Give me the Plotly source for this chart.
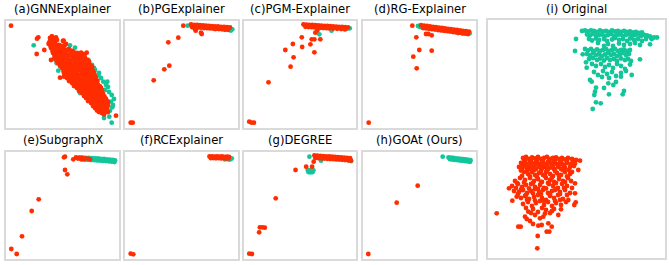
import plotly.graph_objects as go

TEAL = "#12c69a"
RED = "#ff2d00"

titles = ["(a)GNNExplainer", "(b)PGExplainer", "(c)PGM-Explainer", "(d)RG-Explainer",
          "(e)SubgraphX", "(f)RCExplainer", "(g)DEGREE", "(h)GOAt (Ours)", "(i) Original"]

# ---------------- data (embedding coordinates, per panel) ----------------
a_teal_x = [27.7, 64, 69, 82.3, 80.7, 92.3, 97.3, 101.3, 99, 105.7, 105, 106.3, 104, 103.3, 105.7, 100.7,
            50.7, 52.3, 60.7, 65.7, 70.7, 76.3, 79, 86.3, 90.7, 94, 99, 86, 89, 95, 102, 108, 96, 84, 74, 56, 48,
            88, 93, 100, 103, 107, 98]
a_teal_y = [24.3, 24.3, 26.7, 39, 44, 54, 60.7, 60.7, 69, 74, 80.7, 86.3, 89.7, 95.7, 101.7, 90.7,
            42.3, 49.7, 52.3, 60.7, 65.7, 69.7, 75, 79, 82.3, 87.3, 88.3, 44, 49, 57, 66, 78, 92, 80, 72, 45, 38,
            47, 52, 64, 71, 84, 97]
a_red_x = [44, 46, 48, 50,
           43, 46, 49, 53, 57, 60,
           45, 48, 51, 54, 57, 60, 63, 66,
           47, 50, 53, 56, 59, 62, 65, 68, 71, 74, 77,
           49, 52, 55, 58, 61, 64, 67, 70, 73, 76, 79, 81,
           52, 55, 58, 61, 64, 67, 70, 73, 76, 79, 82, 84,
           56, 59, 62, 65, 68, 71, 74, 77, 80, 83, 86,
           58, 61, 64, 67, 70, 73, 76, 79, 82, 85, 88,
           61, 64, 67, 70, 73, 76, 79, 82, 85, 88, 90,
           66, 69, 72, 75, 78, 81, 84, 87, 90, 92,
           71, 74, 77, 80, 83, 86, 89, 92, 95,
           76, 79, 82, 85, 88, 91, 94, 97,
           80, 83, 86, 89, 92, 95, 98, 100,
           85, 88, 91, 94, 97, 100, 102,
           89, 92, 95, 98, 101,
           93, 96, 99, 102,
           45.5, 48.5, 51,
           44.5, 47.5, 50.5, 55, 58.5,
           46.5, 49.5, 52.5, 55.5, 58.5, 61.5, 64.5, 67.5,
           48.5, 51.5, 54.5, 57.5, 60.5, 63.5, 66.5, 69.5, 72.5, 75.5, 78.5,
           50.5, 53.5, 56.5, 59.5, 62.5, 65.5, 68.5, 71.5, 74.5, 77.5, 80.5, 83,
           54, 57, 60, 63, 66, 69, 72, 75, 78, 81, 84, 86,
           57.5, 60.5, 63.5, 66.5, 69.5, 72.5, 75.5, 78.5, 81.5, 84.5, 87,
           59.5, 62.5, 65.5, 68.5, 71.5, 74.5, 77.5, 80.5, 83.5, 86.5, 89,
           63, 66, 69, 72, 75, 78, 81, 84, 87, 90, 91.5,
           68, 71, 74, 77, 80, 83, 86, 89, 92, 94,
           73, 76, 79, 82, 85, 88, 91, 94, 96,
           78, 81, 84, 87, 90, 93, 96, 98.5,
           82, 85, 88, 91, 94, 97, 100, 101.5,
           87, 90, 93, 96, 99, 102,
           91, 94, 97, 100,
           5, 32.3, 31, 30.7, 38.3, 45.7, 47.7, 44, 42.7, 49, 57.7, 75, 80.7, 45, 54, 58, 98, 110, 92.3]
a_red_y = [17, 15.5, 18, 16.5,
           22, 21, 23, 24, 20, 23,
           27, 28, 26, 28, 27, 29, 28, 30,
           32, 33, 31, 33, 32, 34, 31, 33, 32, 34, 33,
           37, 38, 36, 38, 37, 39, 36, 38, 37, 39, 37, 39,
           42, 43, 41, 43, 42, 44, 41, 43, 42, 44, 42, 44,
           47, 48, 46, 48, 47, 49, 46, 48, 47, 49, 47,
           52, 53, 51, 53, 52, 54, 51, 53, 52, 54, 52,
           57, 58, 56, 58, 57, 59, 56, 58, 57, 59, 57,
           62, 63, 61, 63, 62, 64, 61, 63, 62, 64,
           67, 68, 66, 68, 67, 69, 66, 68, 67,
           72, 73, 71, 73, 72, 74, 71, 73,
           77, 78, 76, 78, 77, 79, 76, 78,
           82, 83, 81, 83, 82, 84, 81,
           87, 88, 86, 88, 87,
           91, 92, 90, 91,
           19.5, 20, 19,
           25, 24.5, 25.5, 25, 24.5,
           30, 29.5, 30.5, 29.5, 30.5, 29.5, 30, 31,
           35, 34.5, 35.5, 34.5, 35.5, 34.5, 35, 35.5, 34.5, 35.5, 35,
           40, 39.5, 40.5, 39.5, 40.5, 39.5, 40, 40.5, 39.5, 40.5, 40, 40.5,
           45, 44.5, 45.5, 44.5, 45.5, 44.5, 45, 45.5, 44.5, 45.5, 45, 45.5,
           50, 49.5, 50.5, 49.5, 50.5, 49.5, 50, 50.5, 49.5, 50.5, 50,
           55, 54.5, 55.5, 54.5, 55.5, 54.5, 55, 55.5, 54.5, 55.5, 55,
           60, 59.5, 60.5, 59.5, 60.5, 59.5, 60, 60.5, 59.5, 60.5, 60,
           65, 64.5, 65.5, 64.5, 65.5, 64.5, 65, 65.5, 64.5, 65.5,
           70, 69.5, 70.5, 69.5, 70.5, 69.5, 70, 70.5, 69.5,
           75, 74.5, 75.5, 74.5, 75.5, 74.5, 75, 75.5,
           80, 79.5, 80.5, 79.5, 80.5, 79.5, 80, 80.5,
           85, 84.5, 85.5, 84.5, 85.5, 84.5,
           89.5, 90, 89.5, 89,
           4.7, 16.3, 17.7, 33, 29, 15.7, 17.3, 19.7, 23, 22.3, 19.7, 31.7, 31.7, 39, 56.7, 55.7, 93.3, 94.7, 89]

b_teal_x = [62.7, 107.3, 106, 104.5, 100, 90]
b_teal_y = [4.7, 8.3, 9.5, 9, 8.8, 8]
b_red_x = [58.3, 66, 69, 72, 75, 78, 81, 84, 87, 90, 93, 96, 99, 102, 105,
           67, 70, 73, 76, 79, 82, 85, 88, 91, 94, 97, 100, 103,
           70, 70.7, 76, 76.7, 53.3, 43.3, 39.3, 44.3, 28.7, 5.7, 7.7]
b_red_y = [4.7, 3.5, 3.8, 4, 4.2, 4.4, 4.6, 4.9, 5.1, 5.3, 5.5, 5.8, 6, 6.2, 6.5,
           6, 6.2, 6.5, 6.7, 7, 7.2, 7.4, 7.6, 7.9, 8.1, 8.3, 8.6, 8.8,
           8.3, 9.7, 11.7, 13, 16.7, 21.3, 48.3, 44.7, 59.3, 101.7, 101.7]

c_teal_x = [106.7, 104, 88.3, 76, 101]
c_teal_y = [7.3, 7.8, 9.7, 13.3, 8.2]
c_red_x = [60, 63, 66, 69, 72, 75, 78, 81, 84, 87, 90, 93, 96, 99, 102, 105,
           62, 65, 68, 71, 74, 77, 80, 83, 86, 90, 94, 98, 102,
           74, 72, 58.3, 68.3, 71, 77, 49.3, 58.7, 67, 41.7, 71, 50, 47, 24.7, 5.3, 10, 7.7]
c_red_y = [3.5, 3.7, 3.8, 4, 4.2, 4.4, 4.6, 4.8, 5, 5.2, 5.4, 5.6, 5.8, 6, 6.2, 6.4,
           5.8, 6, 6.2, 6.4, 6.6, 6.8, 7, 7.2, 7.4, 7.6, 7.8, 8, 8.3,
           9.5, 11.7, 16.3, 18.3, 18.3, 18.3, 23, 26, 23.3, 29, 31.3, 36.3, 45.7, 61.3, 100.7, 101.7, 101.7]

d_teal_x = [55, 57, 106.7, 104, 100, 95]
d_teal_y = [5, 6, 12.3, 12.8, 12.6, 12]
d_red_x = [49.3, 58, 61, 64, 67, 70, 73, 76, 79, 82, 85, 88, 91, 94, 97, 100, 103, 106,
           60, 63, 66, 69, 72, 75, 78, 81, 84, 87, 90, 93, 96, 99, 102, 105,
           53.3, 63, 65.3, 68.7, 56.3, 68.7, 50.3, 53.7, 5.7]
d_red_y = [4.7, 4.2, 4.6, 5, 5.4, 5.8, 6.2, 6.6, 7, 7.4, 7.8, 8.2, 8.6, 9, 9.4, 9.8, 10.2, 10.6,
           7, 7.4, 7.8, 8.2, 8.6, 9, 9.4, 9.8, 10.2, 10.6, 11, 11.4, 11.8, 12.2, 12.6, 13,
           16.3, 13, 13, 14.3, 29, 29.7, 35.7, 47.3, 101.7]

e_teal_x = [74, 77, 80, 83, 86, 89, 92, 95, 98, 101, 104, 107, 109,
            76, 79, 82, 85, 88, 91, 94, 97, 100, 103, 106, 108.5]
e_teal_y = [5.5, 5.6, 5.8, 6, 6.1, 6.3, 6.5, 6.8, 7, 7.3, 7.6, 7.9, 8.3,
            7.5, 7.7, 7.8, 8, 8.2, 8.4, 8.7, 8.9, 9.1, 9.4, 9.7, 10]
e_red_x = [59, 58, 67.3, 70, 73, 76, 79, 82, 84, 72, 75, 78, 59, 61.3, 32.7, 25.7, 16, 5.3, 10.7]
e_red_y = [4.7, 5.3, 7.3, 5.5, 5.8, 6, 6.3, 6.6, 7.3, 6.5, 7, 7.2, 18, 22.3, 47.3, 59, 84.3, 97, 102]

f_teal_x = [106.7, 105.5, 104, 100]
f_teal_y = [6.3, 7.3, 7.5, 7.4]
f_red_x = [84.5, 87, 89.5, 92, 94.5, 97, 99.5, 102, 104, 86, 88.5, 91, 93.5, 96, 98.5, 101, 103.5, 5.7, 8.3]
f_red_y = [4.5, 4.3, 4.6, 4.4, 4.7, 4.5, 4.8, 4.6, 5, 6.2, 6, 6.3, 6.1, 6.4, 6.2, 6.5, 6.4, 101.7, 102.3]

g_teal_x = [66, 77.7, 64.3, 66, 68, 70, 65, 67, 69, 106, 108]
g_teal_y = [4.7, 8.7, 18, 18.5, 18.7, 18.3, 20, 20.3, 20.2, 8.5, 9]
g_red_x = [71, 74, 77, 80, 83, 86, 89, 92, 95, 98, 101, 104, 107,
           72, 75, 78, 81, 84, 87, 90, 93, 96, 99, 102, 105, 108,
           70.3, 62.7, 68.7, 52, 32, 16, 18.7, 21, 15.3, 5.3, 8]
g_red_y = [3.5, 3.7, 3.9, 4.1, 4.3, 4.5, 4.7, 4.9, 5.1, 5.3, 5.6, 5.9, 6.2,
           6, 6.2, 6.4, 6.6, 6.8, 7, 7.2, 7.4, 7.6, 7.8, 8, 8.3, 8.7,
           9.7, 14.7, 14.7, 18, 46.3, 75.3, 75.3, 75.7, 80.3, 101.7, 102]

h_teal_x = [79.7, 85.5, 88, 90.5, 93, 95.5, 98, 100.5, 103, 105.5, 107.5,
            87, 89.5, 92, 94.5, 97, 99.5, 102, 104.5, 107]
h_teal_y = [4.7, 5.5, 5.7, 6, 6.3, 6.6, 6.9, 7.2, 7.5, 7.8, 8.2,
            7.3, 7.6, 7.9, 8.2, 8.5, 8.8, 9.1, 9.4, 9.8]
h_red_x = [54.7, 33.7, 5.3]
h_red_y = [33.7, 50.7, 102]

i_teal_x = [94, 97, 100, 103, 106, 109, 112, 115, 118, 121, 124, 127, 130, 133, 136, 139, 142, 145, 148, 151, 154,
            99, 102, 105, 108, 111, 114, 117, 120, 123, 126, 129, 132, 135, 138, 141, 144, 147, 150, 153, 156, 159, 162,
            101, 104, 108, 111, 116, 119, 124, 127, 131, 135, 139, 142, 146, 150, 154, 158, 163, 166, 169, 163.7,
            110, 120, 125, 131, 136, 142, 147, 152, 162, 116,
            88, 87, 94.7,
            97, 100, 103, 106, 109, 112, 115, 118, 121, 124, 127, 130, 133, 136, 139, 142,
            99, 102, 105, 108, 111, 114, 117, 120, 123, 126, 129, 132, 135, 138, 141,
            101, 105, 109, 112, 116, 119, 122, 126, 129, 133, 137, 140, 143,
            98, 104, 108, 113, 117, 121, 125, 129, 133, 137, 142, 152, 98.7,
            106, 110, 115, 119, 124, 128, 133, 138, 143.7, 133, 114, 121,
            102, 103.7, 108, 107, 106.3, 108, 112.7, 104.7, 121, 134.7, 136, 125.3, 120.3, 116, 128]
i_teal_y = [11, 10.5, 11.5, 10.5, 11, 12, 10.5, 11.5, 11, 12, 10.5, 11.5, 11, 12, 11, 12, 11.5, 12.5, 12, 13, 12.5,
            14.5, 15.5, 14, 16, 15, 14.5, 16, 15, 14, 16, 15, 14.5, 16, 15, 14, 16, 15, 14.5, 16, 15, 15.5, 16.5,
            19, 20.5, 18.5, 20, 19, 21, 19.5, 18, 20, 19, 21, 18.5, 20, 19, 21, 19, 18, 17.5, 17.5, 19,
            23, 24, 26, 23.5, 25, 24, 23, 25, 24.3, 26,
            19, 31, 34.3,
            29, 30.5, 29, 31, 29.5, 31, 30, 29, 31, 30, 29, 31, 30, 29.5, 31, 30,
            34, 35.5, 33, 35, 34, 36, 34.5, 33, 35, 34, 36, 34.5, 33, 35, 34,
            39, 38, 40, 38.5, 40.5, 38, 40, 39, 41, 38.5, 40, 39, 41,
            42.3, 44, 46, 44, 47, 45, 48, 44, 46, 49, 44.5, 39.3, 47.7,
            52, 55, 51, 54, 52, 56, 53, 51, 55, 56.7, 57, 58,
            60, 61.7, 67.7, 71.7, 75, 82.3, 83.3, 89, 74.3, 74.3, 71, 65, 63.3, 68, 62]
i_red_x = [35, 38, 41, 44, 47, 50, 53, 56, 59, 62, 65, 68, 71, 74, 77, 80, 84, 88, 92,
           33, 36, 39, 42, 45, 48, 51, 54, 57, 60, 63, 66, 69, 72, 75, 79, 83, 87,
           31, 34, 38, 41, 44, 48, 51, 54, 57, 60, 63, 66, 70, 73, 77, 81, 90.3,
           36, 40, 44, 47, 51, 55, 58, 62, 65, 69, 73, 77, 82,
           27, 32, 37, 42, 46, 50, 54, 58, 62, 66, 71, 75, 80,
           21, 24, 30, 34, 38, 43, 47, 52, 56, 61, 65, 70, 74, 79, 87,
           26, 31, 35, 39, 43, 47, 51, 55, 60, 64, 68, 72, 77, 82, 87,
           28.7, 33, 37, 41, 46, 50, 54, 58, 62, 66, 70, 75, 80.3, 24.3,
           35, 40, 44, 48, 52, 56, 60, 64, 68, 73, 78, 87.7, 86.3,
           40.3, 37, 38.7, 47, 52, 55.3, 45, 50, 58, 62, 66, 70.3, 73, 8.7,
           30.3, 32.7, 50.3, 53.7, 60.3, 63.7, 58.7, 61.3, 42, 45,
           49.7, 49.3,
           37, 43, 49, 55, 61, 67, 73, 79, 85,
           35, 41, 47, 53, 59, 65, 71, 76, 82, 86,
           33, 39, 46, 53, 59, 67, 75, 84,
           34, 42, 49, 57, 64, 71, 79,
           29, 36, 45, 53, 60, 68, 77, 83,
           28, 33, 41, 50, 58, 67, 76, 84,
           30, 38, 45, 53, 62, 72, 79,
           39, 47, 56, 67, 72,
           38, 54, 64, 43, 57]
i_red_y = [138, 137, 139, 137.5, 138.5, 137, 139, 138, 137, 139, 138, 137.5, 139, 138, 139.5, 138, 139, 140, 140.7,
           143, 142, 144, 142, 143.5, 142, 144, 142.5, 144, 142, 143.5, 142, 144, 143, 144.5, 143, 144, 143.5,
           147, 148.5, 147, 149, 147.5, 149, 147, 148.5, 147, 149, 147.5, 149, 147, 149, 148, 150, 150,
           152, 154, 152, 155, 153, 155, 152, 154, 156, 153, 155, 152, 154,
           161, 158, 160, 158, 161, 159, 162, 158, 160, 162, 159, 161, 158,
           168.3, 166, 164, 167, 165, 164, 167, 165, 168, 164, 166, 168, 164, 166, 163.3,
           171, 172, 170, 173, 171, 169, 172, 170, 173, 171, 169, 172, 170, 173, 173.3,
           176.7, 178, 176, 179, 177, 175, 178, 180, 176, 178, 175, 179, 180, 180.7,
           184, 182, 186, 183, 181, 185, 182, 186, 183, 185, 182, 182.3, 185,
           191.7, 196.7, 199, 195, 198.3, 196.7, 189, 192, 190, 193, 189, 195, 189.3, 193.3,
           206.7, 206.7, 205.7, 205, 203.3, 206.7, 211.7, 211.7, 201, 204,
           216, 228.3,
           140.5, 140, 141, 140.5, 141, 140, 141, 140.5, 141.5,
           145.5, 146, 145, 146, 145.5, 146, 145, 146, 147, 146,
           150.5, 151, 150, 151, 150.5, 151, 150, 152,
           156, 156.5, 157, 156, 157.5, 156, 156.5,
           163, 162.5, 163, 162, 163, 163, 162, 161,
           168, 169.5, 168.5, 169, 168.5, 170, 168, 168,
           174, 175, 173.5, 174, 174.5, 174, 175,
           180, 180.5, 181, 181, 180,
           188, 188, 191, 193, 193.5]

panel_data = [
    (a_teal_x, a_teal_y, a_red_x, a_red_y),
    (b_teal_x, b_teal_y, b_red_x, b_red_y),
    (c_teal_x, c_teal_y, c_red_x, c_red_y),
    (d_teal_x, d_teal_y, d_red_x, d_red_y),
    (e_teal_x, e_teal_y, e_red_x, e_red_y),
    (f_teal_x, f_teal_y, f_red_x, f_red_y),
    (g_teal_x, g_teal_y, g_red_x, g_red_y),
    (h_teal_x, h_teal_y, h_red_x, h_red_y),
    (i_teal_x, i_teal_y, i_red_x, i_red_y),
]

# ---------------- layout geometry (pixels) ----------------
FW, FH = 669, 265
# (x0, x1, y0, y1, data width, data height)
boxes = [
    (6, 119, 21, 128, 113, 107), (125, 238, 21, 128, 113, 107),
    (244, 356, 21, 128, 113, 107), (363, 476, 21, 128, 113, 107),
    (6, 119, 152, 259, 113, 107), (125, 238, 152, 259, 113, 107),
    (244, 356, 152, 259, 113, 107), (363, 476, 152, 259, 113, 107),
    (488, 665, 20, 258, 177, 238),
]
title_y = [8.8, 8.8, 8.8, 8.8, 140.2, 140.2, 140.2, 140.2, 8.8]

fig = go.Figure()
annotations = []
for i, ((tx, ty, rx, ry), (x0, x1, y0, y1, W, H)) in enumerate(zip(panel_data, boxes)):
    n = "" if i == 0 else str(i + 1)
    xa, ya = "x" + n, "y" + n
    for xs, ys, col in ((tx, ty, TEAL), (rx, ry, RED)):
        fig.add_trace(go.Scatter(x=xs, y=ys, mode="markers", xaxis=xa, yaxis=ya,
                                 marker=dict(color=col, size=4.8, line=dict(width=0)),
                                 showlegend=False, hoverinfo="skip"))
    axcommon = dict(showgrid=False, zeroline=False, showticklabels=False, ticks="",
                    showline=True, mirror=True, linecolor="#dadada", linewidth=2)
    fig.update_layout(**{
        "xaxis" + n: dict(domain=[x0 / FW, x1 / FW], range=[0, W], anchor=ya, **axcommon),
        "yaxis" + n: dict(domain=[1 - y1 / FH, 1 - y0 / FH], range=[H, 0], anchor=xa, **axcommon),
    })
    annotations.append(dict(text=titles[i], xref="paper", yref="paper",
                            x=(x0 + x1) / 2 / FW, y=1 - title_y[i] / FH,
                            xanchor="center", yanchor="middle", showarrow=False,
                            font=dict(family="DejaVu Sans", size=11.6, color="#000000")))

fig.update_layout(width=FW, height=FH, margin=dict(l=0, r=0, t=0, b=0),
                  paper_bgcolor="white", plot_bgcolor="white",
                  annotations=annotations)
fig.write_html("out.html", config={"displayModeBar": False, "staticPlot": True},
               post_script="document.body.style.margin='0px';document.body.style.overflow='hidden';")
